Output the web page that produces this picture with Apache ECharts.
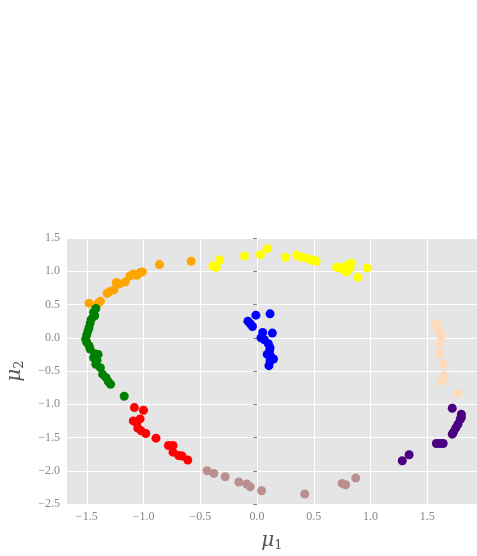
<!DOCTYPE html>
<html>
<head>
<meta charset="utf-8">
<script src="https://cdn.jsdelivr.net/npm/echarts@6/dist/echarts.min.js"></script>
<style>
  html, body { margin: 0; padding: 0; background: #fff; }
  #chart { width: 477px; height: 556px; }
</style>
</head>
<body>
<div id="chart"></div>
<script>
// cluster points, [mu1, mu2]
const orangePts = [
  [-1.48, 0.52], [-1.40, 0.52], [-1.38, 0.55], [-1.32, 0.67], [-1.30, 0.69], [-1.26, 0.72],
  [-1.24, 0.83], [-1.21, 0.81], [-1.16, 0.84], [-1.12, 0.93], [-1.09, 0.96], [-1.06, 0.94],
  [-1.03, 0.98], [-1.01, 0.99], [-0.86, 1.10], [-0.58, 1.15]
];
const greenPts = [
  [-1.42, 0.44], [-1.44, 0.38], [-1.43, 0.33], [-1.46, 0.28], [-1.47, 0.22], [-1.48, 0.15],
  [-1.49, 0.10], [-1.50, 0.04], [-1.51, -0.02], [-1.50, -0.07], [-1.48, -0.12], [-1.47, -0.17],
  [-1.43, -0.24], [-1.40, -0.25], [-1.44, -0.30], [-1.41, -0.34], [-1.42, -0.40], [-1.38, -0.45],
  [-1.36, -0.55], [-1.33, -0.60], [-1.31, -0.66], [-1.29, -0.70], [-1.17, -0.88]
];
const redPts = [
  [-1.08, -1.05], [-1.00, -1.09], [-1.09, -1.25], [-1.06, -1.28], [-1.03, -1.22], [-1.05, -1.36],
  [-1.02, -1.40], [-0.98, -1.44], [-0.89, -1.51], [-0.78, -1.62], [-0.74, -1.62], [-0.74, -1.72],
  [-0.69, -1.77], [-0.66, -1.78], [-0.61, -1.84]
];
const rosyPts = [
  [-0.44, -2.00], [-0.38, -2.04], [-0.28, -2.09], [-0.16, -2.17], [-0.09, -2.20], [-0.06, -2.24],
  [0.04, -2.30], [0.42, -2.35], [0.75, -2.19], [0.78, -2.21], [0.87, -2.11]
];
const yellowPts = [
  [-0.39, 1.08], [-0.36, 1.06], [-0.33, 1.17], [-0.11, 1.23], [0.03, 1.25], [0.09, 1.34],
  [0.25, 1.21], [0.35, 1.24], [0.39, 1.21], [0.44, 1.20], [0.48, 1.17], [0.52, 1.15],
  [0.51, 1.16], [0.70, 1.06], [0.72, 1.06], [0.75, 1.05], [0.77, 1.01], [0.79, 0.99],
  [0.80, 1.09], [0.83, 1.12], [0.82, 1.05], [0.89, 0.91], [0.97, 1.05]
];
const bluePts = [
  [-0.01, 0.34], [0.115, 0.36], [-0.08, 0.25], [-0.06, 0.21], [-0.04, 0.17], [0.05, 0.08],
  [0.035, 0.00], [0.135, 0.07], [0.065, -0.03], [0.10, -0.09], [0.115, -0.15], [0.11, -0.20],
  [0.09, -0.25], [0.12, -0.28], [0.145, -0.32], [0.115, -0.35], [0.105, -0.42]
];
const peachPts = [
  [1.58, 0.21], [1.59, 0.16], [1.60, 0.12], [1.62, 0.03], [1.61, -0.09], [1.61, -0.24],
  [1.64, -0.40], [1.65, -0.57], [1.63, -0.65], [1.77, -0.84]
];
const indigoPts = [
  [1.72, -1.06], [1.80, -1.15], [1.80, -1.20], [1.79, -1.23], [1.77, -1.30], [1.75, -1.36],
  [1.73, -1.42], [1.72, -1.45], [1.58, -1.59], [1.61, -1.59], [1.64, -1.59], [1.34, -1.76],
  [1.28, -1.85]
];

const xTicks = [-1.5, -1.0, -0.5, 0.0, 0.5, 1.0, 1.5];
const yTicks = [-2.5, -2.0, -1.5, -1.0, -0.5, 0.0, 0.5, 1.0, 1.5];

const clusters = [
  {data: orangePts, color: '#FFA500'},
  {data: greenPts, color: '#008000'},
  {data: redPts, color: '#FF0000'},
  {data: rosyPts, color: '#BC8F8F'},
  {data: yellowPts, color: '#FFFF00'},
  {data: bluePts, color: '#0000FF'},
  {data: peachPts, color: '#FFDAB9'},
  {data: indigoPts, color: '#4B0082'},
];

const fmt = v => (v < 0 ? '\u2212' : '') + Math.abs(v).toFixed(1);
const tickFont = {fontFamily: 'Liberation Serif', fontSize: 12, color: '#888'};
const nameRich = {
  m: {fontFamily: 'DejaVu Serif', fontStyle: 'italic', fontSize: 20, color: '#555'},
  s: {fontFamily: 'DejaVu Serif', fontSize: 13, color: '#555', padding: [10, 0, 0, 0]}
};

const myChart = echarts.init(document.getElementById('chart'));

// vertical grid lines at the x ticks (the x axis is not tick-aligned at its min)
const gridSeries = {
  type: 'scatter',
  data: [],
  silent: true,
  z: 1,
  markLine: {
    silent: true,
    z: 1,
    symbol: 'none',
    label: {show: false},
    animation: false,
    lineStyle: {color: '#fff', width: 1, type: 'solid'},
    data: xTicks.map(v => ({xAxis: v}))
  }
};

myChart.setOption({
  animation: false,
  grid: {
    left: 67, top: 238, right: 0, bottom: 52,
    outerBoundsMode: 'none',
    containLabel: false,
    show: true, backgroundColor: '#E5E5E5', borderWidth: 0
  },
  xAxis: {
    type: 'value',
    min: -1.674, max: 1.938,
    name: '{m|\u03bc}{s|1}',
    nameLocation: 'middle',
    nameGap: 25,
    nameTextStyle: {rich: nameRich},
    axisLine: {show: false},
    axisTick: {show: true, length: 4, customValues: xTicks, lineStyle: {color: '#888'}},
    axisLabel: Object.assign({customValues: xTicks, formatter: fmt, margin: 7}, tickFont),
    splitLine: {show: false}
  },
  yAxis: {
    type: 'value',
    min: -2.5, max: 1.5, interval: 0.5,
    name: '{m|\u03bc}{s|2}',
    nameLocation: 'middle',
    nameGap: 41,
    nameTextStyle: {rich: nameRich},
    axisLine: {show: false},
    axisTick: {show: true, length: 4, lineStyle: {color: '#888'}},
    axisLabel: Object.assign({formatter: fmt, margin: 7}, tickFont),
    splitLine: {show: true, lineStyle: {color: '#fff', width: 1}}
  },
  series: [gridSeries].concat(clusters.map(c => ({
    type: 'scatter',
    data: c.data,
    symbolSize: 9,
    z: 3,
    itemStyle: {color: c.color, opacity: 1}
  })))
});
</script>
</body>
</html>
